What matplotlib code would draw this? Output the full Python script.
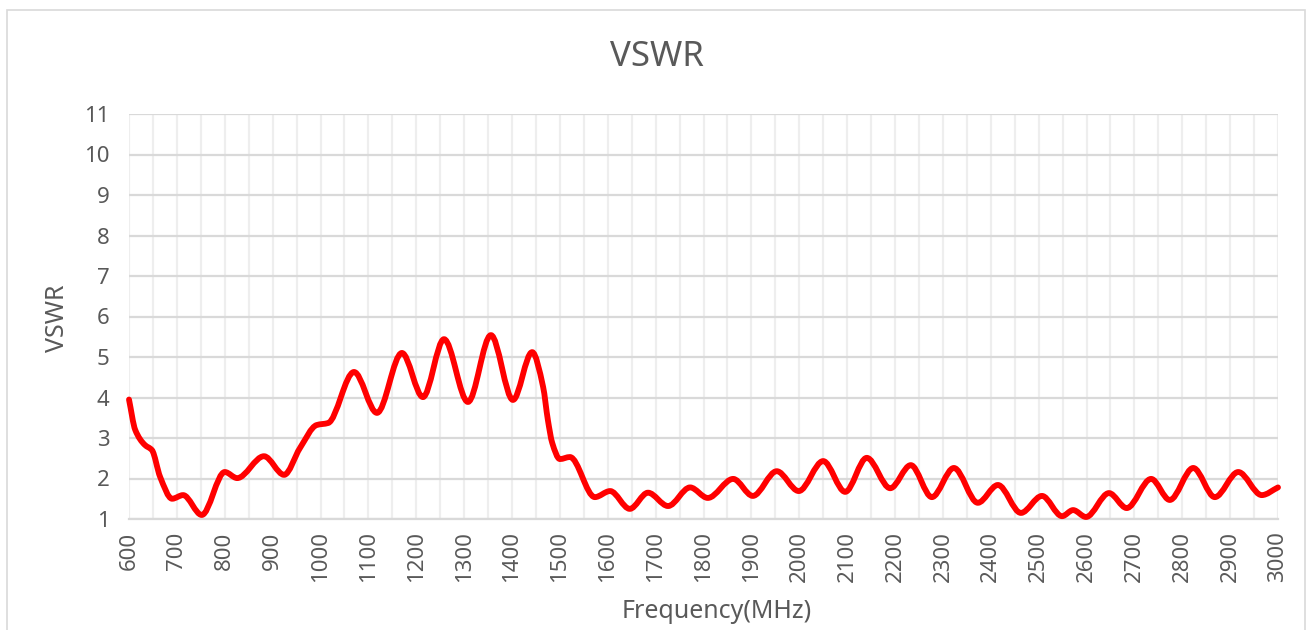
import matplotlib
matplotlib.use("Agg")
import matplotlib.pyplot as plt
import numpy as np
from matplotlib.path import Path
from matplotlib.patches import PathPatch, Rectangle

# ---- data ----
freq = [600, 613, 633, 648, 665, 690, 713, 752, 800, 826, 882, 924, 957, 992, 1016,
        1070, 1118, 1170, 1214, 1258, 1308, 1356, 1402, 1442, 1465, 1475, 1484, 1500,
        1521, 1573, 1605, 1646, 1684, 1726, 1772, 1809, 1862, 1903, 1953, 1999, 2050,
        2096, 2141, 2190, 2233, 2277, 2323, 2373, 2415, 2463, 2507, 2549, 2572, 2599,
        2647, 2684, 2735, 2774, 2823, 2868, 2917, 2966, 3000]
vswr = [3.95, 3.20, 2.83, 2.70, 2.04, 1.50, 1.59, 1.10, 2.16, 2.01, 2.55, 2.09, 2.75,
        3.32, 3.37, 4.63, 3.62, 5.10, 4.01, 5.44, 3.89, 5.54, 3.94, 5.12, 4.26, 3.44,
        2.88, 2.48, 2.53, 1.54, 1.69, 1.25, 1.65, 1.32, 1.78, 1.52, 1.99, 1.57, 2.18,
        1.69, 2.43, 1.67, 2.51, 1.76, 2.33, 1.54, 2.26, 1.40, 1.84, 1.15, 1.57, 1.07,
        1.22, 1.05, 1.64, 1.27, 1.99, 1.47, 2.26, 1.54, 2.16, 1.59, 1.78]
x_ticks = list(range(600, 3001, 100))
y_ticks = list(range(1, 12))
title = "VSWR"
xlabel = "Frequency(MHz)"
ylabel = "VSWR"

plt.rcParams['font.family'] = ['Noto Sans', 'DejaVu Sans']
TXT = "#595959"

fig = plt.figure(figsize=(13.09, 6.30), dpi=100)
fig.patches.append(Rectangle((7 / 1309, -0.01), 1298 / 1309, 1 - 10 / 630 + 0.01,
                             transform=fig.transFigure, fill=False,
                             edgecolor="#d9d9d9", linewidth=1.2))
ax = fig.add_axes([129 / 1309, 1 - 519 / 630, (1278 - 129) / 1309, (519 - 114) / 630])

# smooth line (Excel-style smoothed line) built as a Bezier path through the points
x = np.array(freq, dtype=float)
y = np.array(vswr, dtype=float)
h = np.diff(x)
d = np.diff(y) / h
m = np.zeros_like(y)
for i in range(1, len(y) - 1):
    if d[i - 1] * d[i] > 0:
        w1 = 2 * h[i] + h[i - 1]
        w2 = h[i] + 2 * h[i - 1]
        m[i] = (w1 + w2) / (w1 / d[i - 1] + w2 / d[i])
m[0] = d[0]
m[-1] = d[-1]
verts = [(x[0], y[0])]
codes = [Path.MOVETO]
for i in range(len(x) - 1):
    verts += [(x[i] + h[i] / 3, y[i] + m[i] * h[i] / 3),
              (x[i + 1] - h[i] / 3, y[i + 1] - m[i + 1] * h[i] / 3),
              (x[i + 1], y[i + 1])]
    codes += [Path.CURVE4] * 3
ax.add_patch(PathPatch(Path(verts, codes), facecolor="none", edgecolor="#ff0000",
                       linewidth=4.2, capstyle="round", joinstyle="round", zorder=3,
                       clip_on=False))

ax.set_xlim(600, 3000)
ax.set_ylim(1, 11)
ax.set_xticks(x_ticks)
ax.set_xticks(list(range(650, 3000, 100)), minor=True)
ax.set_yticks(y_ticks)
ax.set_xticklabels([str(v) for v in x_ticks], rotation=90, color=TXT, fontsize=16)
ax.set_yticklabels([str(v) for v in y_ticks], color=TXT, fontsize=16)
ax.tick_params(axis="both", which="both", length=0)
ax.tick_params(axis="x", pad=9)
ax.tick_params(axis="y", pad=14)

ax.grid(True, axis="x", which="both", color="#eeeeee", linewidth=1.6, zorder=0)
ax.grid(True, axis="y", which="major", color="#d9d9d9", linewidth=1.6, zorder=0)
ax.set_axisbelow(True)
for s in ["top", "right", "left"]:
    ax.spines[s].set_visible(False)
ax.spines["bottom"].set_color("#d9d9d9")
ax.spines["bottom"].set_linewidth(1.6)

fig.text(657 / 1309, 1 - 57 / 630, title, ha="center", va="center", fontsize=25, color=TXT)
fig.text(717 / 1309, 1 - 612 / 630, xlabel, ha="center", va="center", fontsize=18, color=TXT)
fig.text(57 / 1309, 1 - 318 / 630, ylabel, ha="center", va="center", rotation=90,
         fontsize=18, color=TXT)

fig.savefig("out.png", dpi=100)
